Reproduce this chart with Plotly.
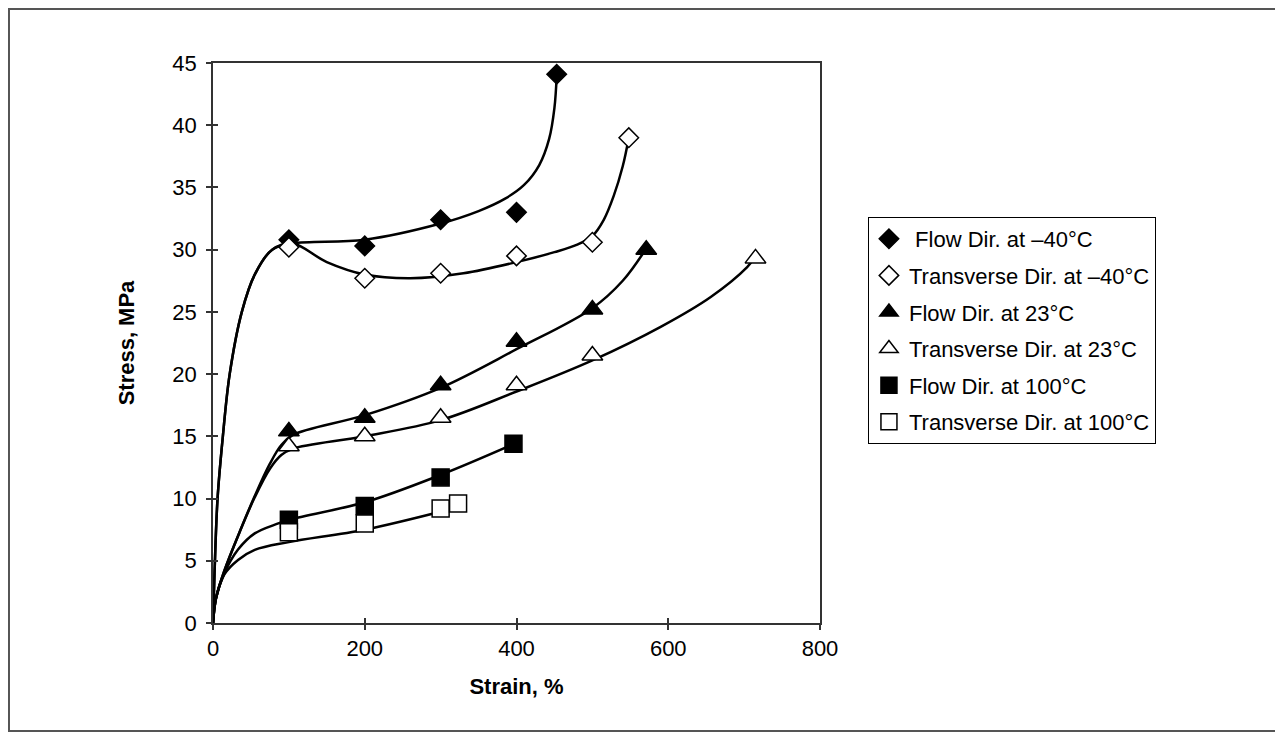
import plotly.graph_objects as go

# ---- measured data points (markers) ----
flow_m40_x = [100, 200, 300, 400, 453]
flow_m40_y = [30.8, 30.3, 32.4, 33.0, 44.1]
trans_m40_x = [100, 200, 300, 400, 500, 548]
trans_m40_y = [30.2, 27.7, 28.1, 29.5, 30.6, 39.0]
flow_23_x = [100, 200, 300, 400, 500, 571]
flow_23_y = [15.4, 16.5, 19.1, 22.6, 25.2, 30.0]
trans_23_x = [100, 200, 300, 400, 500, 715]
trans_23_y = [14.2, 15.0, 16.5, 19.1, 21.5, 29.3]
flow_100_x = [100, 200, 300, 396]
flow_100_y = [8.3, 9.4, 11.7, 14.4]
trans_100_x = [100, 200, 300, 323]
trans_100_y = [7.3, 8.0, 9.2, 9.6]

# ---- trend curves ----
c_flow_m40_x = [0, 2, 6, 13, 22, 38, 55, 78, 105, 200, 300, 350, 385, 410, 430, 443, 450, 453]
c_flow_m40_y = [0, 4, 10, 15, 20, 25, 28, 30, 30.5, 30.8, 32.1, 33.1, 34.1, 35.2, 36.8, 38.9, 41.4, 44.0]
c_trans_m40_x = [0, 2, 6, 13, 22, 38, 55, 78, 105, 150, 200, 260, 330, 400, 450, 480, 500, 515, 528, 540, 548]
c_trans_m40_y = [0, 4, 10, 15, 20, 25, 28, 30, 30.5, 29.0, 28.0, 27.7, 28.1, 29.0, 29.8, 30.4, 31.1, 32.4, 34.3, 36.7, 39.0]
c_flow_23_x = [0, 4, 15, 35, 55, 75, 90, 105, 200, 300, 400, 500, 540, 570]
c_flow_23_y = [0, 2, 4.2, 7.3, 10.2, 12.8, 14.3, 15.1, 16.7, 18.9, 22.0, 25.3, 27.5, 30.0]
c_trans_23_x = [0, 4, 15, 35, 55, 75, 90, 105, 200, 300, 400, 500, 590, 656, 704, 713]
c_trans_23_y = [0, 2, 4.2, 7.3, 10.1, 12.4, 13.5, 14.0, 15.0, 16.3, 18.6, 21.1, 23.8, 26.2, 28.6, 29.3]
c_flow_100_x = [0, 4, 15, 33, 55, 86, 100, 200, 300, 397]
c_flow_100_y = [0, 2, 4.0, 5.9, 7.2, 8.0, 8.3, 9.7, 11.9, 14.4]
c_trans_100_x = [0, 4, 15, 33, 55, 100, 200, 310]
c_trans_100_y = [0, 2, 3.9, 5.06, 5.87, 6.5, 7.5, 9.1]

x_ticks = [0, 200, 400, 600, 800]
y_ticks = [0, 5, 10, 15, 20, 25, 30, 35, 40, 45]

FONT = "Liberation Sans, Arial, sans-serif"
fig = go.Figure()

curves = [(c_flow_m40_x, c_flow_m40_y), (c_trans_m40_x, c_trans_m40_y),
          (c_flow_23_x, c_flow_23_y), (c_trans_23_x, c_trans_23_y),
          (c_flow_100_x, c_flow_100_y), (c_trans_100_x, c_trans_100_y)]
for cx, cy in curves:
    fig.add_trace(go.Scatter(x=cx, y=cy, mode="lines",
                             line=dict(color="black", width=2.5, shape="spline", smoothing=1.0),
                             showlegend=False, hoverinfo="skip"))

series = [
    ("\u00a0Flow Dir. at \u201340\u00b0C", flow_m40_x, flow_m40_y, "diamond", 15, "black"),
    ("Transverse Dir. at \u201340\u00b0C", trans_m40_x, trans_m40_y, "diamond", 15, "white"),
    ("Flow Dir. at 23\u00b0C", flow_23_x, flow_23_y, "triangle-up", 18, "black"),
    ("Transverse Dir. at 23\u00b0C", trans_23_x, trans_23_y, "triangle-up", 18, "white"),
    ("Flow Dir. at 100\u00b0C", flow_100_x, flow_100_y, "square", 17, "black"),
    ("Transverse Dir. at 100\u00b0C", trans_100_x, trans_100_y, "square", 17, "white"),
]
for i, (name, sx, sy, sym, size, fill) in enumerate(series):
    fig.add_trace(go.Scatter(x=sx, y=sy, mode="markers", name=name, legendgroup=f"g{i}",
                             marker=dict(symbol=sym, size=size, color=fill,
                                         line=dict(color="black", width=1.5))))

# invisible trace on the overlay axes (for crossing tick marks)
fig.add_trace(go.Scatter(x=[0], y=[0], xaxis="x2", yaxis="y2", mode="markers",
                         marker=dict(opacity=0), showlegend=False, hoverinfo="skip"))

axis_common = dict(showgrid=False, zeroline=False, showline=True, linecolor="#333",
                   linewidth=1.5, ticks="outside", ticklen=5, tickwidth=1.5,
                   tickcolor="#333", tickfont=dict(family=FONT, size=22, color="black"))

fig.update_layout(
    width=1283, height=736,
    margin=dict(l=205, r=471, t=55, b=121),
    paper_bgcolor="white", plot_bgcolor="white",
    font=dict(family=FONT, color="black"),
    xaxis=dict(range=[0, 800], tickvals=x_ticks, mirror=True,
               title=dict(text="<b>Strain, %</b>", font=dict(family=FONT, size=22), standoff=18),
               **axis_common),
    yaxis=dict(range=[0, 45], tickvals=y_ticks, mirror=True, ticklabelstandoff=5,
               title=dict(text="<b>Stress, MPa</b>", font=dict(family=FONT, size=22), standoff=32),
               **axis_common),
    xaxis2=dict(range=[0, 800], tickvals=x_ticks, overlaying="x", showgrid=False,
                zeroline=False, showline=False, ticks="inside", ticklen=5, tickwidth=1.5,
                tickcolor="#333", showticklabels=False, side="bottom"),
    yaxis2=dict(range=[0, 45], tickvals=y_ticks, overlaying="y", showgrid=False,
                zeroline=False, showline=False, ticks="inside", ticklen=5, tickwidth=1.5,
                tickcolor="#333", showticklabels=False, side="left"),
    legend=dict(x=1.079, y=0.725, xanchor="left", yanchor="top",
                bordercolor="black", borderwidth=1, bgcolor="white",
                font=dict(family=FONT, size=22, color="black"),
                traceorder="grouped", tracegroupgap=5, itemsizing="trace"),
    shapes=[dict(type="rect", xref="paper", yref="paper",
                 x0=-0.3361, x1=1.7562, y0=-0.1929, y1=1.0964,
                 line=dict(color="#555", width=2))],
)

fig.write_html("out.html")
